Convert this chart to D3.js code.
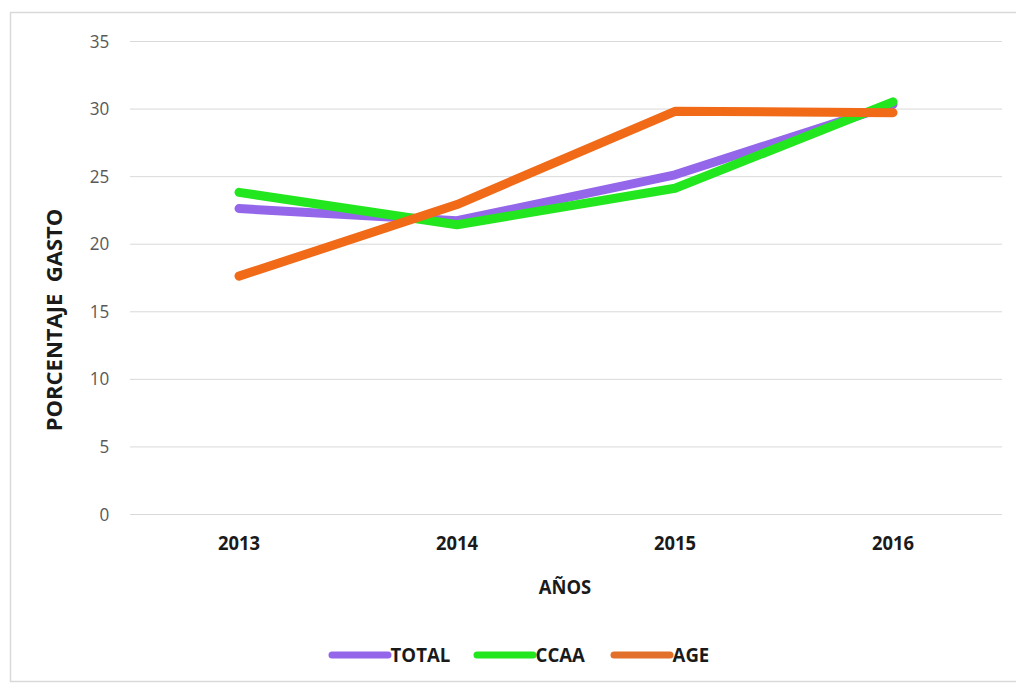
<!DOCTYPE html>
<html><head><meta charset="utf-8">
<script src="https://cdn.jsdelivr.net/npm/d3@7"></script>
<style>body{margin:0;background:#fff;}svg{display:block;}</style>
</head><body>
<svg id="c" width="1016" height="686"></svg>
<script>
const years = ["2013","2014","2015","2016"];
const total = [22.6, 21.7, 25.1, 30.3];
const ccaa  = [23.8, 21.4, 24.1, 30.5];
const age   = [17.6, 22.9, 29.8, 29.7];
const yTicks = [0,5,10,15,20,25,30,35];
const seriesNames = ["TOTAL","CCAA","AGE"];
const seriesColors = ["#9466ea","#22e61e","#f06a18"];
const legendColors = ["#9466ea","#22e61e","#e2702a"];

const svg = d3.select("#c");
svg.append("rect").attr("x",10.5).attr("y",12.5).attr("width",1020).attr("height",669)
  .attr("fill","#fff").attr("stroke","#d9d9d9").attr("stroke-width",1.5);

const x = d3.scaleBand().domain(years).range([130,1002]);
const y = d3.scaleLinear().domain([0,35]).range([514,41]);

const gy = svg.append("g").attr("transform","translate(130,0)")
  .call(d3.axisLeft(y).tickValues(yTicks).tickSize(-872).tickPadding(23));
gy.select(".domain").remove();
gy.selectAll("line").attr("stroke","#d9d9d9").attr("stroke-width",1);
gy.selectAll("text").attr("fill","#595959").attr("font-family","Open Sans, sans-serif")
  .attr("font-size",19).attr("transform","scale(0.9,1)");

const gx = svg.append("g").attr("transform","translate(0,514)")
  .call(d3.axisBottom(x).tickSize(0).tickPadding(22));
gx.select(".domain").remove();
gx.selectAll("text").attr("fill","#1a1a1a").attr("font-family","Open Sans, sans-serif")
  .attr("font-weight","bold").attr("font-size",20).attr("transform","scale(0.92,1)");

svg.append("text").attr("x",565).attr("y",594).attr("text-anchor","middle")
  .attr("font-family","Open Sans, sans-serif").attr("font-weight","bold").attr("font-size",20)
  .attr("fill","#1a1a1a").attr("transform","translate(565,0) scale(0.92,1) translate(-565,0)").text("AÑOS");
svg.append("text").attr("transform","translate(62,320) rotate(-90)").attr("text-anchor","middle")
  .attr("font-family","Open Sans, sans-serif").attr("font-weight","bold").attr("font-size",22)
  .style("white-space","pre")
  .attr("fill","#1a1a1a").text("PORCENTAJE  GASTO");

const line = d3.line().x((d,i)=>x(years[i])+x.bandwidth()/2).y(d=>y(d));
[total, ccaa, age].forEach((s,k)=>{
  svg.append("path").datum(s).attr("d",line).attr("fill","none")
    .attr("stroke",seriesColors[k]).attr("stroke-width",9)
    .attr("stroke-linecap","round").attr("stroke-linejoin","round");
});

const legendX = [332, 477, 614];
seriesNames.forEach((n,k)=>{
  const g = svg.append("g").attr("transform",`translate(${legendX[k]},655)`);
  g.append("line").attr("x1",0).attr("x2",56).attr("y1",0).attr("y2",0)
    .attr("stroke",legendColors[k]).attr("stroke-width",7).attr("stroke-linecap","round");
  g.append("text").attr("x",59).attr("y",7).attr("font-family","Open Sans, sans-serif")
    .attr("font-weight","bold").attr("font-size",20).attr("fill","#1a1a1a")
    .attr("transform","scale(0.93,1) translate(4,0)").text(n);
});
</script>
</body></html>
